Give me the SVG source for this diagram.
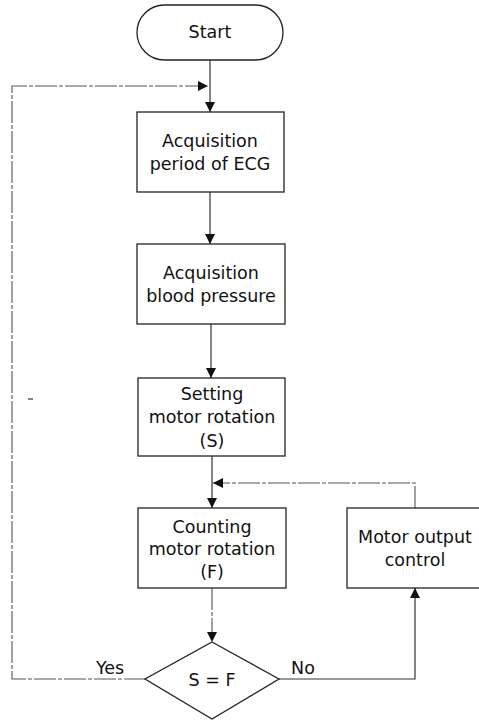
<svg xmlns="http://www.w3.org/2000/svg" width="479" height="722" viewBox="0 0 479 722">
<defs>
<style>
.n{fill:#fff;stroke:#222;stroke-width:1.3}
.c{fill:none;stroke:#333;stroke-width:1.2}
.d{fill:none;stroke:#555;stroke-width:1.1;stroke-dasharray:22 2 4 2}
text{font-family:"DejaVu Sans",sans-serif;font-size:17.5px;fill:#111;text-anchor:middle;dominant-baseline:central}
</style>
<marker id="a" viewBox="0 0 10 10" refX="10" refY="5" markerWidth="10" markerHeight="10" markerUnits="userSpaceOnUse" orient="auto">
<path d="M0,0 L10,5 L0,10 z" fill="#111"/>
</marker>
</defs>
<g id="connectors">
<path class="c" d="M210,60 V112" marker-end="url(#a)"/>
<path class="d" d="M146,679 H12 V86 H208" marker-end="url(#a)"/>
<path class="c" d="M210,192 V244" marker-end="url(#a)"/>
<path class="c" d="M211,324 V378" marker-end="url(#a)"/>
<path class="c" d="M212,456 V508" marker-end="url(#a)"/>
<path class="d" d="M415,508 V483 H213" marker-end="url(#a)"/>
<path class="d" d="M212,588 V642" marker-end="url(#a)"/>
<path class="c" d="M279,679 H415 V588" marker-end="url(#a)"/>
<path class="c" d="M28,399 H33"/>
</g>
<g id="start">
<rect class="n" x="137" y="5" width="146" height="55" rx="27.5"/>
<text x="210" y="32">Start</text>
</g>
<g id="ecg">
<rect class="n" x="137" y="112" width="147" height="80"/>
<text x="210" y="141">Acquisition</text>
<text x="210" y="164">period of ECG</text>
</g>
<g id="bp">
<rect class="n" x="137" y="244" width="148" height="80"/>
<text x="211" y="273">Acquisition</text>
<text x="211" y="296">blood pressure</text>
</g>
<g id="setting">
<rect class="n" x="138" y="378" width="147" height="78"/>
<text x="212" y="394">Setting</text>
<text x="212" y="417">motor rotation</text>
<text x="212" y="441">(S)</text>
</g>
<g id="counting">
<rect class="n" x="138" y="508" width="148" height="80"/>
<text x="212" y="527">Counting</text>
<text x="212" y="549">motor rotation</text>
<text x="212" y="572">(F)</text>
</g>
<g id="motor">
<rect class="n" x="347" y="508" width="140" height="80"/>
<text x="415" y="537">Motor output</text>
<text x="415" y="560">control</text>
</g>
<g id="decision">
<path class="n" d="M212,642 L279,679 L212,719 L145,679 z"/>
<text x="212" y="680">S = F</text>
</g>
<g id="labels">
<text x="110" y="668">Yes</text>
<text x="303" y="668">No</text>
</g>
</svg>
